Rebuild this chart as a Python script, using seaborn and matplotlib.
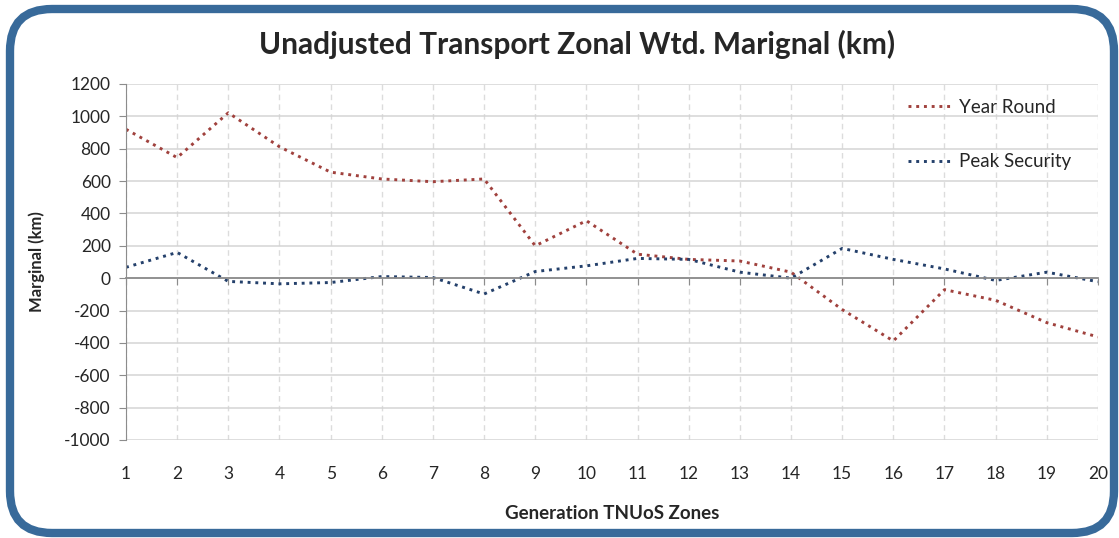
import matplotlib
matplotlib.use("Agg")
import matplotlib.pyplot as plt
from matplotlib.patches import FancyBboxPatch
from matplotlib.transforms import IdentityTransform
import seaborn as sns
import pandas as pd

sns.set_style("white")
plt.rcParams['font.family'] = ['Lato', 'DejaVu Sans']
plt.rcParams['axes.unicode_minus'] = False

# values
zones = list(range(1, 21))
year_round = [920, 745, 1022, 812, 655, 613, 596, 613, 200, 355,
              148, 116, 106, 37, -194, -388, -71, -137, -275, -363]
peak_security = [67, 159, -20, -35, -27, 10, 4, -98, 41, 76,
                 122, 116, 37, 0, 184, 116, 57, -14, 37, -22]
y_ticks = list(range(-1000, 1201, 200))

yr = pd.DataFrame({'Zone': zones, 'Marginal': year_round})
ps = pd.DataFrame({'Zone': zones, 'Marginal': peak_security})

fig = plt.figure(figsize=(11.19, 5.38), dpi=100)
ax = fig.add_axes([0.1126, 0.1822, 0.8686, 0.6617])

sns.lineplot(data=yr, x='Zone', y='Marginal', ax=ax, color='#A0413D',
             linestyle=':', linewidth=2.1, label='Year Round')
sns.lineplot(data=ps, x='Zone', y='Marginal', ax=ax, color='#24406B',
             linestyle=':', linewidth=2.1, label='Peak Security')

ax.set_xlim(1, 20)
ax.set_ylim(-1000, 1200)
ax.set_yticks(y_ticks)
ax.set_xticks(zones)

# grid
ax.grid(axis='y', color='#D4D4D4', linewidth=1.1, linestyle='-')
ax.grid(axis='x', color='#DCDCDC', linewidth=1, linestyle=(0, (4, 3)))
ax.set_axisbelow(True)

for s in ['top', 'right']:
    ax.spines[s].set_visible(False)
ax.spines['left'].set_color('#8C8C8C')
ax.spines['bottom'].set_position(('data', 0))
ax.spines['bottom'].set_color('#8C8C8C')
ax.spines['bottom'].set_linewidth(1.3)

ax.tick_params(axis='y', left=True, length=5, color='#8C8C8C', labelsize=12.5, pad=6)
ax.tick_params(axis='x', bottom=True, length=5, color='#8C8C8C', labelbottom=False)
ax.set_xlabel('')
ax.set_ylabel('Marginal (km)', fontsize=12, fontweight='bold', labelpad=14)

# zone labels sit at the bottom of the plot area
sec = ax.secondary_xaxis(0)
sec.set_xticks(zones)
sec.spines['bottom'].set_visible(False)
sec.tick_params(length=0, pad=19, labelsize=12.5)
sec.set_xlabel('Generation TNUoS Zones', fontsize=13.5, fontweight='bold', labelpad=16)

ax.legend(loc='upper left', bbox_to_anchor=(0.805, 0.958), frameon=False,
          labelspacing=2.0, handlelength=2.4, handletextpad=0.3,
          borderpad=0, borderaxespad=0, fontsize=13.5)

fig.text(0.516, 0.918, 'Unadjusted Transport Zonal Wtd. Marignal (km)',
         ha='center', va='center', fontsize=21.5, fontweight='bold')

# rounded blue frame
frame = FancyBboxPatch((10, 5), 1104, 524, boxstyle='round,pad=0,rounding_size=42',
                       transform=IdentityTransform(), fill=False,
                       edgecolor='#386A9A', linewidth=6)
fig.add_artist(frame)

fig.savefig('out.png', dpi=100)
